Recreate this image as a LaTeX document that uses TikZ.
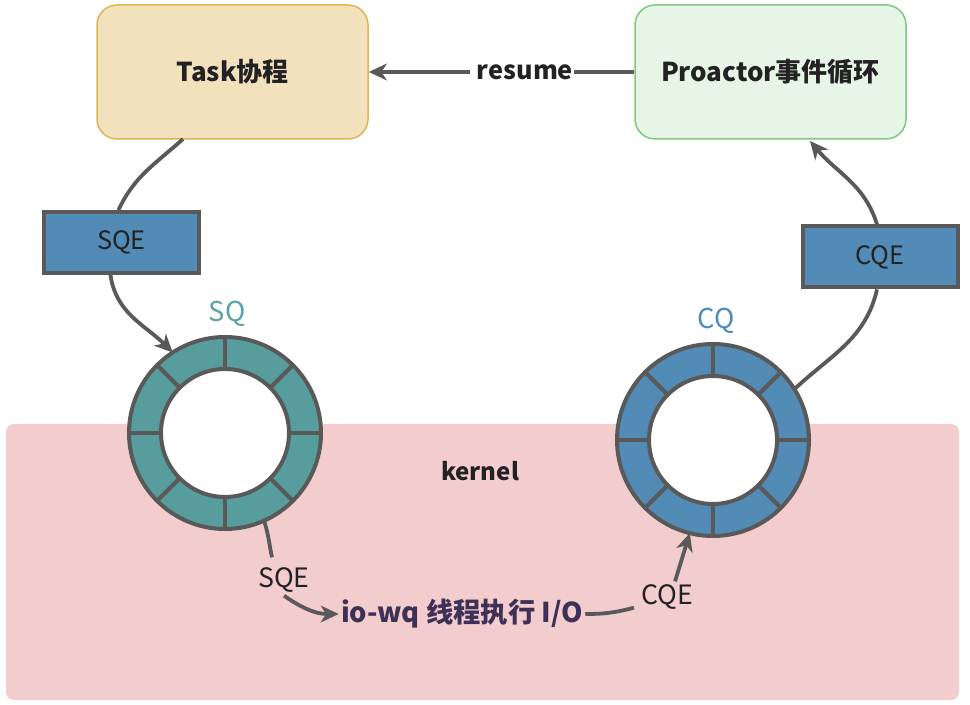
\documentclass[tikz,border=0pt]{standalone}
\usepackage{fontspec}
\setmainfont{Noto Sans CJK SC}
\usetikzlibrary{arrows.meta,calc}
\definecolor{lineg}{HTML}{595959}
\definecolor{tealr}{HTML}{579D9D}
\definecolor{bluer}{HTML}{528BB5}
\definecolor{taskfill}{HTML}{F2E1BD}
\definecolor{taskdraw}{HTML}{DDB653}
\definecolor{profill}{HTML}{E7F5E7}
\definecolor{prodraw}{HTML}{82C682}
\definecolor{kernfill}{HTML}{F3CDCD}
\definecolor{sqtext}{HTML}{5BA3A3}
\definecolor{cqtext}{HTML}{4E8CBE}
\definecolor{iotext}{HTML}{3D3157}
\definecolor{txtdark}{HTML}{222222}
\newdimen\pxu \pxu=0.75pt
\tikzset{
  mainbox/.style={rectangle, rounded corners=20\pxu, line width=1.5\pxu, minimum width=271\pxu, minimum height=134\pxu, font=\bfseries\fontsize{19.5}{21}\selectfont, text=txtdark},
  qebox/.style={rectangle, draw=lineg, fill=bluer, line width=4\pxu, minimum width=155\pxu, minimum height=61\pxu, font=\fontsize{19}{21}\selectfont, text=txtdark},
  ringout/.style={circle, draw=lineg, line width=4\pxu, minimum size=192\pxu, inner sep=0pt, outer sep=0pt},
  ringin/.style={circle, draw=lineg, fill=white, line width=4\pxu, minimum size=128\pxu, inner sep=0pt, outer sep=0pt},
  divider/.style={lineg, line width=4\pxu},
  conn/.style={draw=lineg, line width=3.8\pxu},
  arr/.style={conn, -{Stealth[length=13.5pt, width=12.5pt, inset=4pt]}},
  lbl/.style={font=\fontsize{20}{22}\selectfont, text=txtdark, inner sep=1\pxu},
}
\begin{document}
\begin{tikzpicture}[x=\pxu, y=-\pxu]
\useasboundingbox (0,0) rectangle (970,705);
% kernel area
\node[rectangle, fill=kernfill, rounded corners=8\pxu, minimum width=953\pxu, minimum height=276\pxu] (kernel) at (482.5,562) {};
\node[font=\bfseries\fontsize{18}{20}\selectfont, text=txtdark] (kernlbl) at (480,471) {kernel};
% top boxes
\node[mainbox, fill=taskfill, draw=taskdraw] (task) at (232.5,72) {Task协程};
\node[mainbox, fill=profill, draw=prodraw] (pro) at (770.5,72) {Proactor事件循环};
% SQE / CQE boxes
\node[qebox] (sqebox) at (121.5,242.5) {SQE};
\node[qebox] (cqebox) at (880,257) {CQE};
% rings
\node[ringout, fill=tealr] (sq) at (225,433) {};
\node[ringin] (sqin) at (225,433) {};
\foreach \a in {0,45,...,315} \draw[divider] (sqin.\a) -- (sq.\a);
\node[ringout, fill=bluer] (cq) at (713,440) {};
\node[ringin] (cqin) at (713,440) {};
\foreach \a in {0,45,...,315} \draw[divider] (cqin.\a) -- (cq.\a);
\node[font=\fontsize{20.5}{22}\selectfont, text=sqtext] (sqlbl) at (227,314) {SQ};
\node[font=\fontsize{20.5}{22}\selectfont, text=cqtext] (cqlbl) at (716,321) {CQ};
% resume
\node[font=\bfseries\fontsize{19}{21}\selectfont, text=txtdark, fill=white, inner sep=1\pxu] (resume) at (525,72) {resume};
\draw[conn] (pro.west) -- (resume.east);
\draw[arr] ($(resume.west)+(-6,0)$) -- (task.east);
% task -> SQE -> SQ
\coordinate (tbot) at (183,139);
\draw[conn] (tbot) to[out=222, in=65] ($(sqebox.north)+(-3,0)$);
\draw[arr] ($(sqebox.south)+(-11,0)$) to[out=-82, in=135] (sq.123);
% CQ -> CQE -> proactor
\coordinate (pbot) at (810,141);
\draw[conn] (cq.32) to[out=43, in=-103] ($(cqebox.south)+(-3,0)$);
\draw[arr] ($(cqebox.north)+(-3,0)$) to[out=107, in=-50] (pbot);
% kernel flow
\node[lbl] (sqelbl) at (284,580) {SQE};
\node[font=\bfseries\fontsize{20.5}{22}\selectfont, text=iotext, inner sep=2\pxu] (iowq) at (462,614) {io-wq 线程执行 I/O};
\node[lbl] (cqelbl) at (667,597) {CQE};
\coordinate (sqeltop) at ($(sqelbl.north)+(-12,-9)$);
\draw[conn] (sq.-66) to[out=-72, in=102] (sqeltop);
\draw[arr] ($(sqelbl.south)+(0,2)$) to[out=-35, in=180] (iowq.west);
\draw[conn] (iowq.east) to[out=0, in=195] ($(cqelbl.south west)+(-6,-3)$);
\draw[arr] ($(cqelbl.north)+(8,-2)$) -- (cq.-104);
\end{tikzpicture}
\end{document}
